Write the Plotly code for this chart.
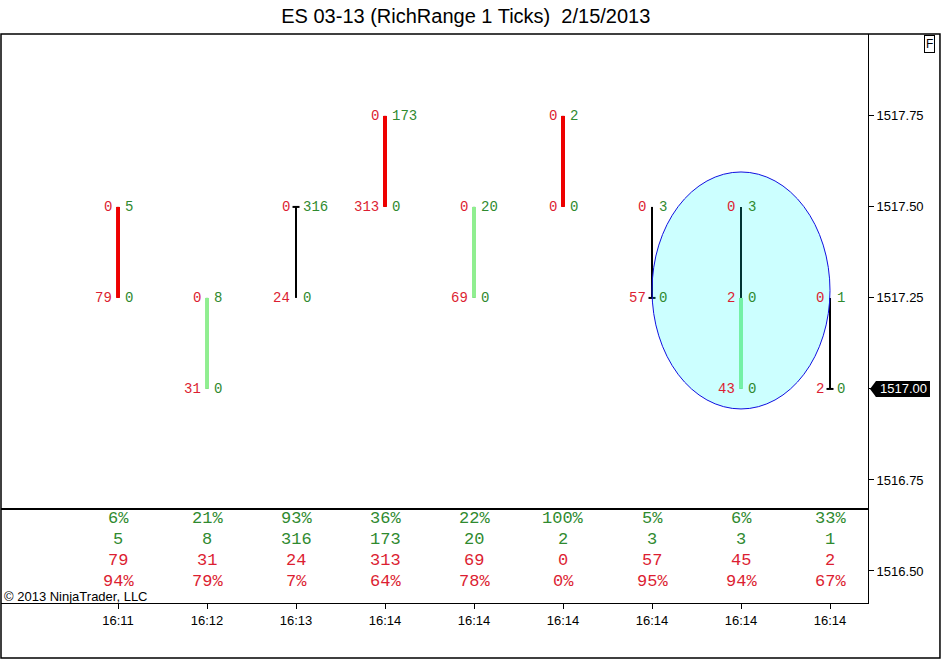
import plotly.graph_objects as go

# ES 03-13 range bars (1 tick), 2/15/2013
times = ["16:11", "16:12", "16:13", "16:14", "16:14", "16:14", "16:14", "16:14", "16:14"]
opens = [1517.50, 1517.00, 1517.50, 1517.75, 1517.25, 1517.75, 1517.25, 1517.00, 1517.00]
highs = [1517.50, 1517.25, 1517.50, 1517.75, 1517.50, 1517.75, 1517.50, 1517.50, 1517.25]
lows = [1517.25, 1517.00, 1517.25, 1517.50, 1517.25, 1517.50, 1517.25, 1517.00, 1517.00]
closes = [1517.25, 1517.25, 1517.50, 1517.50, 1517.50, 1517.50, 1517.25, 1517.25, 1517.00]

# bid / ask volume at each price of a bar, from low to high
bid_at_price = [[79, 0], [31, 0], [24, 0], [313, 0], [69, 0], [0, 0], [57, 0], [43, 2, 0], [2, 0]]
ask_at_price = [[0, 5], [0, 8], [0, 316], [0, 173], [0, 20], [0, 2], [0, 3], [0, 0, 3], [0, 1]]

# summary rows under the bars
ask_pct = [6, 21, 93, 36, 22, 100, 5, 6, 33]
ask_total = [5, 8, 316, 173, 20, 2, 3, 3, 1]
bid_total = [79, 31, 24, 313, 69, 0, 57, 45, 2]
bid_pct = [94, 79, 7, 64, 78, 0, 95, 94, 67]

price_ticks = [1516.50, 1516.75, 1517.00, 1517.25, 1517.50, 1517.75]
last_price = 1517.00
tick = 0.25

BID_COL = "#dc1e32"
ASK_COL = "#2f8a2f"
UP_COL = "#90ee90"
DN_COL = "#ee0000"
MONO = "Liberation Mono, Courier New, monospace"
SANS = "Liberation Sans, Arial, sans-serif"

xs = list(range(len(times)))
fig = go.Figure()

# wicks
wx, wy = [], []
for i in xs:
    wx += [i, i, None]
    wy += [lows[i], highs[i], None]
fig.add_trace(go.Scatter(x=wx, y=wy, mode="lines", line=dict(color="black", width=2),
                         hoverinfo="skip", showlegend=False))

# bodies
for col, test in [(DN_COL, lambda o, c: c < o), (UP_COL, lambda o, c: c > o)]:
    bx, by = [], []
    for i in xs:
        if test(opens[i], closes[i]):
            bx += [i, i, None]
            by += [opens[i], closes[i], None]
    fig.add_trace(go.Scatter(x=bx, y=by, mode="lines", line=dict(color=col, width=4),
                             hoverinfo="skip", showlegend=False))

# doji ticks
dx = [i for i in xs if opens[i] == closes[i]]
dy = [opens[i] for i in dx]
fig.add_trace(go.Scatter(x=dx, y=dy, mode="markers",
                         marker=dict(symbol="line-ew", size=5, line=dict(color="black", width=2)),
                         hoverinfo="skip", showlegend=False))

ann = []
# bid x ask at each price
for i in xs:
    for k in range(len(bid_at_price[i])):
        p = lows[i] + k * tick
        ann.append(dict(x=i, y=p, xref="x", yref="y", text=str(bid_at_price[i][k]), showarrow=False,
                        xanchor="right", yanchor="middle", xshift=-4,
                        font=dict(family=MONO, size=14, color=BID_COL)))
        ann.append(dict(x=i, y=p, xref="x", yref="y", text=str(ask_at_price[i][k]), showarrow=False,
                        xanchor="left", yanchor="middle", xshift=5,
                        font=dict(family=MONO, size=14, color=ASK_COL)))

# summary panel
rows = [(ask_pct, "%", ASK_COL, 0.149), (ask_total, "", ASK_COL, 0.1115),
        (bid_total, "", BID_COL, 0.0745), (bid_pct, "%", BID_COL, 0.0375)]
for vals, suf, col, yy in rows:
    for i in xs:
        ann.append(dict(x=i, y=yy, xref="x", yref="paper", text=f"{vals[i]}{suf}", showarrow=False,
                        xanchor="center", yanchor="middle", borderpad=0,
                        font=dict(family=MONO, size=17, color=col)))

ann.append(dict(x=0.002, y=0.011, xref="paper", yref="paper", text="© 2013 NinjaTrader, LLC",
                showarrow=False, xanchor="left", yanchor="middle", borderpad=0,
                font=dict(family=SANS, size=13, color="black")))
ann.append(dict(x=1.0715, y=0.982, xref="paper", yref="paper", text="F", showarrow=False,
                xanchor="center", yanchor="middle", bordercolor="black", borderwidth=1, borderpad=1,
                font=dict(family=SANS, size=12, color="black")))
ann.append(dict(x=1.0405, y=last_price, xref="paper", yref="y", text=f"{last_price:.2f}", showarrow=False,
                xanchor="center", yanchor="middle",
                font=dict(family=SANS, size=13, color="white")))

shapes = [
    # highlight ellipse
    dict(type="circle", xref="x", yref="y", x0=6.0, x1=8.0, y0=1516.945, y1=1517.596,
         fillcolor="rgba(0,255,255,0.2)", line=dict(color="#1010e0", width=1), layer="above"),
    # separator above summary rows
    dict(type="line", xref="paper", yref="paper", x0=0, x1=1, y0=0.1652, y1=0.1652,
         line=dict(color="black", width=2)),
    # outer frame
    dict(type="rect", xref="paper", yref="paper", x0=0, x1=1.083, y0=-0.0967, y1=1,
         line=dict(color="black", width=1.5)),
    # last price marker
    dict(type="rect", xref="paper", yref="y", x0=1.0092, x1=1.0715,
         y0=last_price - 0.022, y1=last_price + 0.022, fillcolor="black", line=dict(width=0), layer="above"),
    dict(type="path", xref="paper", yref="y",
         path=f"M 1.0092,{last_price - 0.022} L 1.0023,{last_price} L 1.0092,{last_price + 0.022} Z",
         fillcolor="black", line=dict(width=0), layer="above"),
]

# the last price gets its own marker instead of a plain tick label
ytext = ["" if p == last_price else f"{p:.2f}" for p in price_ticks]

fig.update_layout(
    width=941, height=659,
    margin=dict(l=1, r=73, t=34, b=56),
    paper_bgcolor="white", plot_bgcolor="white",
    title=dict(text="ES 03-13 (RichRange 1 Ticks)  2/15/2013", x=0.495, xanchor="center",
               y=1 - 16 / 659, yanchor="middle", font=dict(family=SANS, size=20, color="black")),
    annotations=ann, shapes=shapes,
    xaxis=dict(range=[-1.315, 8.427], tickvals=xs, ticktext=times, ticks="outside", ticklen=5,
               tickcolor="black", showline=True, linecolor="black", linewidth=1, showgrid=False,
               zeroline=False, tickfont=dict(family=SANS, size=13, color="black")),
    yaxis=dict(range=[1516.412, 1517.975], side="right", tickvals=price_ticks,
               ticktext=ytext, ticks="outside", ticklen=5,
               tickcolor="black", showline=True, linecolor="black", linewidth=1, showgrid=False,
               zeroline=False, tickfont=dict(family=SANS, size=13, color="black")),
)

fig.write_html("out.html", config={"displayModeBar": False},
               post_script="document.body.style.margin='0';")
